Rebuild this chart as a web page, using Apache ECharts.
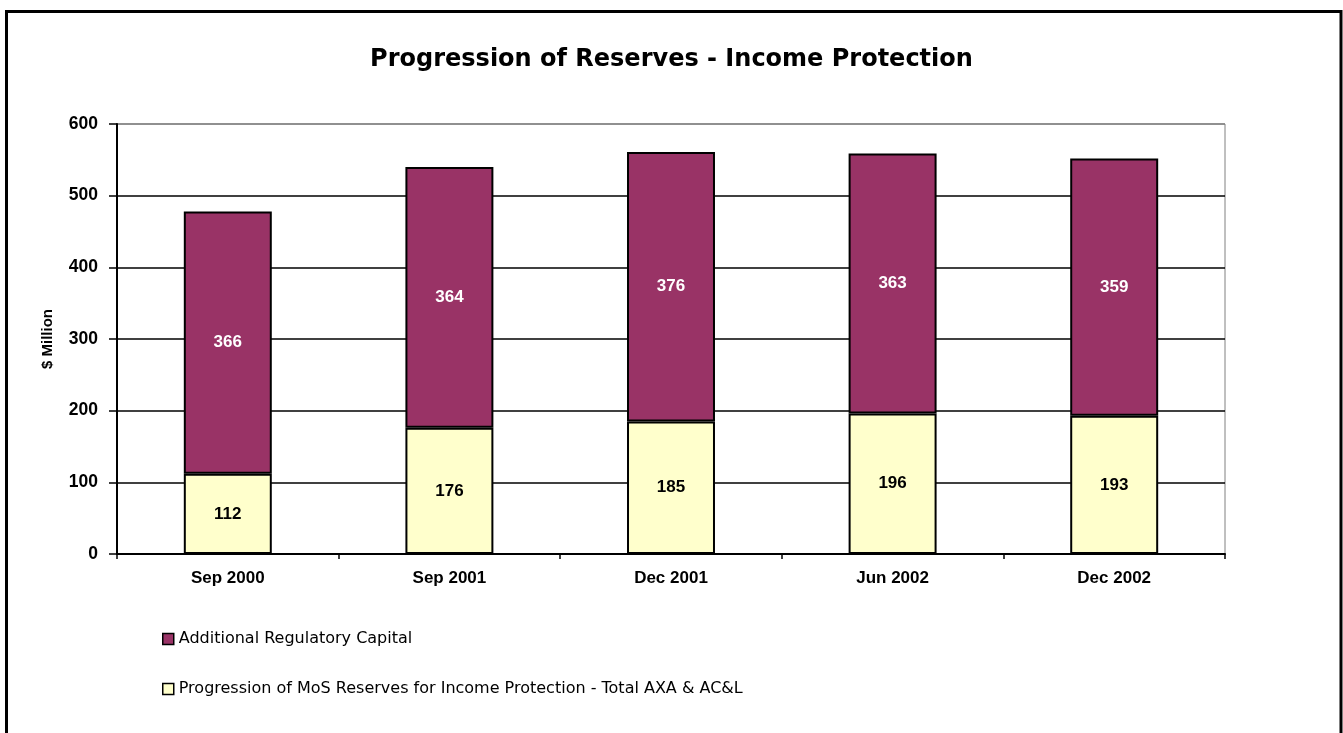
<!DOCTYPE html>
<html>
<head>
<meta charset="utf-8">
<script src="https://cdn.jsdelivr.net/npm/echarts@6/dist/echarts.min.js"></script>
<style>
  html, body { margin: 0; padding: 0; background: #fff; }
  #chart { width: 1343px; height: 733px; }
</style>
</head>
<body>
<div id="chart"></div>
<script>
// Reporting dates
const periods = ['Sep 2000', 'Sep 2001', 'Dec 2001', 'Jun 2002', 'Dec 2002'];
// $ Million, stacked from the bottom
const mosReserves = [112, 176, 185, 196, 193];
const regulatoryCapital = [366, 364, 376, 363, 359];
// Series names
const nameMoS = 'Progression of MoS Reserves for Income Protection - Total AXA & AC&L';
const nameCapital = 'Additional Regulatory Capital';
// Value axis range
const yMin = 0, yMax = 600, yStep = 100;

const chart = echarts.init(document.getElementById('chart'), null, { renderer: 'canvas' });

const arialBold = { fontFamily: 'Liberation Sans, Arial, sans-serif', fontWeight: 'bold', color: '#000' };

chart.setOption({
  animation: false,
  backgroundColor: '#fff',
  title: {
    text: 'Progression of Reserves - Income Protection',
    left: 'center',
    top: 43,
    textStyle: { fontFamily: 'DejaVu Sans, sans-serif', fontWeight: 'bold', fontSize: 24, color: '#000' }
  },
  graphic: [{
    type: 'rect',
    shape: { x: 6.5, y: 11.5, width: 1334.5, height: 800 },
    style: { fill: 'none', stroke: '#000', lineWidth: 3 },
    silent: true
  }],
  grid: {
    left: 117, right: 118, top: 124, bottom: 179,
    show: true, borderColor: '#808080', borderWidth: 1, backgroundColor: 'transparent'
  },
  legend: {
    orient: 'vertical',
    left: 157,
    top: 626,
    itemWidth: 11,
    itemHeight: 11,
    itemGap: 34,
    icon: 'rect',
    data: [nameCapital, nameMoS],
    itemStyle: { borderColor: '#000', borderWidth: 1.5 },
    textStyle: { fontFamily: 'DejaVu Sans, sans-serif', fontSize: 16, color: '#000', lineHeight: 16 }
  },
  xAxis: {
    type: 'category',
    data: periods,
    axisLine: { lineStyle: { color: '#000', width: 2 } },
    axisTick: { show: true, length: 5, inside: false, lineStyle: { color: '#000', width: 1.5 } },
    axisLabel: Object.assign({ fontSize: 17, margin: 16 }, arialBold)
  },
  yAxis: {
    type: 'value',
    min: yMin, max: yMax, interval: yStep,
    name: '$ Million',
    nameLocation: 'middle',
    nameRotate: 90,
    nameGap: 62,
    nameTextStyle: Object.assign({ fontSize: 15 }, arialBold),
    axisLine: { show: true, lineStyle: { color: '#000', width: 2 } },
    axisTick: { show: true, length: 8, lineStyle: { color: '#000', width: 1.5 } },
    axisLabel: Object.assign({ fontSize: 17.5, margin: 19 }, arialBold),
    splitLine: {
      show: true,
      lineStyle: { color: ['#000', '#000', '#000', '#000', '#000', '#000', '#808080'], width: 1.5 }
    }
  },
  series: [
    {
      name: nameMoS,
      type: 'bar',
      stack: 'reserves',
      data: mosReserves,
      barWidth: '39.7%',
      itemStyle: { color: '#FFFFCC', borderColor: '#000', borderWidth: 2 },
      label: Object.assign({ show: true, position: 'inside', fontSize: 17 }, arialBold)
    },
    {
      name: nameCapital,
      type: 'bar',
      stack: 'reserves',
      data: regulatoryCapital,
      barWidth: '39.7%',
      itemStyle: { color: '#993366', borderColor: '#000', borderWidth: 2 },
      label: Object.assign({ show: true, position: 'inside', fontSize: 17 }, arialBold, { color: '#fff' })
    }
  ]
});
</script>
</body>
</html>
